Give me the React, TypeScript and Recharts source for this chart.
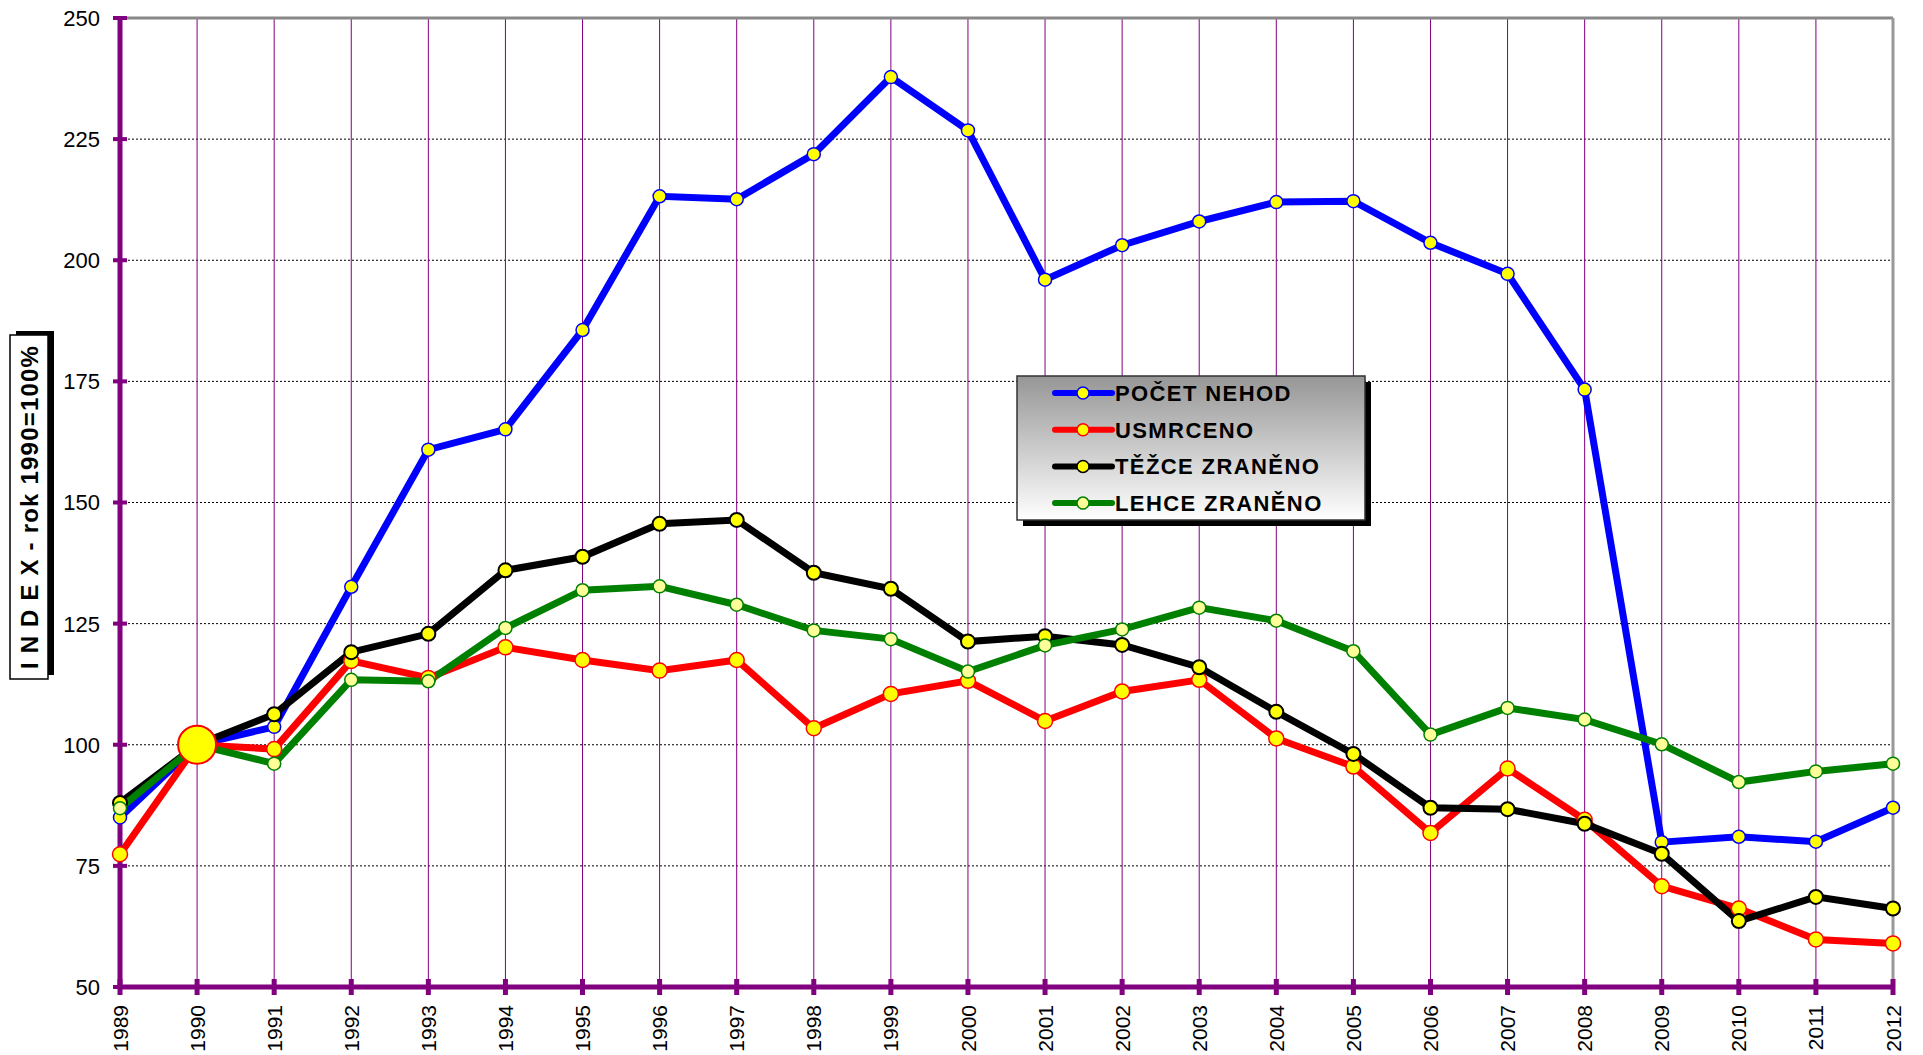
import React from 'react';
import { LineChart, Line, XAxis, YAxis, CartesianGrid, ReferenceLine, ReferenceDot, Customized } from 'recharts';

const years = ['1989','1990','1991','1992','1993','1994','1995','1996','1997','1998','1999','2000','2001','2002','2003','2004','2005','2006','2007','2008','2009','2010','2011','2012'];
const pocetNehod = [85.0,100,103.7,132.6,160.9,165.1,185.6,213.2,212.6,221.9,237.8,226.8,196.0,203.1,208.0,212.0,212.2,203.6,197.2,173.3,79.9,81.0,80.0,87.0];
const usmrceno = [77.4,100,99.1,117.3,113.8,120.1,117.5,115.3,117.5,103.4,110.5,113.2,104.9,111.0,113.4,101.3,95.5,81.8,95.1,84.5,70.8,66.2,59.8,59.0];
const tezceZraneno = [88.0,100,106.3,119.1,122.9,136.0,138.8,145.6,146.4,135.5,132.2,121.3,122.4,120.6,116.0,106.8,98.1,87.0,86.7,83.7,77.5,63.6,68.6,66.2];
const lehceZraneno = [86.9,100,96.1,113.4,113.1,124.1,131.9,132.7,128.9,123.6,121.8,115.1,120.5,123.8,128.3,125.6,119.3,102.1,107.6,105.2,100.1,92.3,94.5,96.1];
const yTicks = [50,75,100,125,150,175,200,225,250];
const seriesNames = ['POČET NEHOD','USMRCENO','TĚŽCE ZRANĚNO','LEHCE ZRANĚNO'];

const data = years.map((y, i) => ({
  year: y,
  pocet: pocetNehod[i],
  usmrceno: usmrceno[i],
  tezce: tezceZraneno[i],
  lehce: lehceZraneno[i],
}));

const PURPLE = '#800080';
const FONT = '"Liberation Sans", Arial, sans-serif';
const OY = 8; // vertical offset of chart within its svg (chart svg starts at page top)

const YTick = (props: any) => {
  const { x, y, payload } = props;
  return (
    <g>
      <line x1={x - 7} x2={x + 7} y1={y} y2={y} stroke={PURPLE} strokeWidth={4} />
      <text x={x - 20} y={y} dy="0.36em" textAnchor="end" fontFamily={FONT} fontSize={22} fill="#000">{payload.value}</text>
    </g>
  );
};

const XTick = (props: any) => {
  const { x, y, payload } = props;
  const ty = y + 18;
  return (
    <g>
      <line x1={x} x2={x} y1={y - 8} y2={y + 8} stroke={PURPLE} strokeWidth={5} />
      <text x={x} y={ty} dy="0.36em" textAnchor="end" transform={`rotate(-90, ${x}, ${ty})`} fontFamily={FONT} fontSize={21} fill="#000">{payload.value}</text>
    </g>
  );
};

const legendItems = [
  { name: seriesNames[0], color: '#0000ff', fill: '#ffff00' },
  { name: seriesNames[1], color: '#ff0000', fill: '#ffff00' },
  { name: seriesNames[2], color: '#000000', fill: '#ffff00' },
  { name: seriesNames[3], color: '#008000', fill: '#ffff99' },
];

const Overlay = () => {
  const lx = 1009, ly = 368 + OY, lw = 348, lh = 144;
  return (
    <g>
      <defs>
        <linearGradient id="legGrad" x1="0" y1="0" x2="0" y2="1">
          <stop offset="0%" stopColor="#969696" />
          <stop offset="100%" stopColor="#ffffff" />
        </linearGradient>
      </defs>
      {/* Y axis title box */}
      <rect x={8} y={323 + OY} width={38} height={344} fill="#000" />
      <rect x={2} y={327 + OY} width={38} height={344} fill="#fff" stroke="#000" strokeWidth={1.5} />
      <text x={21} y={499 + OY} dy="0.36em" textAnchor="middle" transform={`rotate(-90, 21, ${499 + OY})`} fontFamily={FONT} fontWeight="bold" fontSize={24} letterSpacing={1.2} fill="#000">I N D E X - rok 1990=100%</text>
      {/* Legend */}
      <rect x={lx + 6} y={ly + 6} width={lw} height={lh} fill="#000" />
      <rect x={lx} y={ly} width={lw} height={lh} fill="url(#legGrad)" stroke="#333" strokeWidth={1.5} />
      {legendItems.map((it, i) => {
        const cy = ly + 17 + i * 36.7;
        return (
          <g key={it.name}>
            <line x1={1047} x2={1104} y1={cy} y2={cy} stroke={it.color} strokeWidth={6} strokeLinecap="round" />
            <circle cx={1075} cy={cy} r={6} fill={it.fill} stroke={it.color} strokeWidth={1.5} />
            <text x={1107} y={cy} dy="0.36em" fontFamily={FONT} fontWeight="bold" fontSize={22} letterSpacing={1.4} fill="#000">{it.name}</text>
          </g>
        );
      })}
    </g>
  );
};

export default function App() {
  return (
    <div style={{ marginTop: -8 }}>
      <LineChart width={1907} height={1053} data={data} margin={{ top: 10 + OY, right: 22, bottom: 0, left: 0 }}>
        <CartesianGrid horizontal={true} vertical={false} stroke="#000" strokeDasharray="2 2" strokeWidth={1} />
        <CartesianGrid horizontal={false} vertical={true} stroke={PURPLE} strokeWidth={1} />
        <ReferenceLine y={250} stroke="#888" strokeWidth={3} />
        <ReferenceLine x="2012" stroke="#999" strokeWidth={3} />
        <XAxis dataKey="year" height={66} interval={0} tickSize={0} tickMargin={0} tickLine={false}
          axisLine={{ stroke: PURPLE, strokeWidth: 5 }} tick={<XTick />} />
        <YAxis domain={[50, 250]} ticks={yTicks} width={112} interval={0} tickSize={0} tickMargin={0} tickLine={false}
          axisLine={{ stroke: PURPLE, strokeWidth: 5 }} tick={<YTick />} allowDataOverflow />
        <Line dataKey="pocet" name={seriesNames[0]} stroke="#0000ff" strokeWidth={7} isAnimationActive={false}
          dot={{ r: 6.5, fill: '#ffff00', stroke: '#0000ff', strokeWidth: 1.5 }} />
        <Line dataKey="usmrceno" name={seriesNames[1]} stroke="#ff0000" strokeWidth={7} isAnimationActive={false}
          dot={{ r: 7.5, fill: '#ffff00', stroke: '#ff0000', strokeWidth: 1.5 }} />
        <Line dataKey="tezce" name={seriesNames[2]} stroke="#000000" strokeWidth={7} isAnimationActive={false}
          dot={{ r: 7, fill: '#ffff00', stroke: '#000000', strokeWidth: 2 }} />
        <Line dataKey="lehce" name={seriesNames[3]} stroke="#008000" strokeWidth={7} isAnimationActive={false}
          dot={{ r: 6.5, fill: '#ffff99', stroke: '#008000', strokeWidth: 1.5 }} />
        <ReferenceDot x="1990" y={100} r={19} fill="#ffff00" stroke="#ff0000" strokeWidth={2} />
        <Customized component={Overlay} />
      </LineChart>
    </div>
  );
}
